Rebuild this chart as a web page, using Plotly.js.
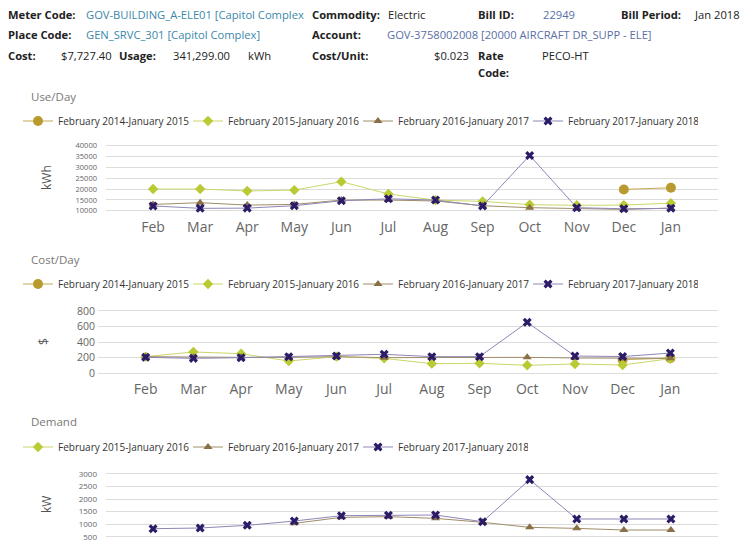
<!DOCTYPE html>
<html><head><meta charset="utf-8">
<script src="https://cdn.plot.ly/plotly-3.0.1.min.js"></script>
<style>html,body{margin:0;padding:0;background:#fff}</style>
</head><body><div id="chart" style="width:750px;height:550px"></div>
<script>
const months = ['Feb','Mar','Apr','May','Jun','Jul','Aug','Sep','Oct','Nov','Dec','Jan'];
const seriesNames = ['February 2014-January 2015','February 2015-January 2016','February 2016-January 2017','February 2017-January 2018'];

const useDay2014 = [null,null,null,null,null,null,null,null,null,null,19800,20600];
const useDay2015 = [20000,20000,19100,19500,23400,17700,14900,14300,12800,12500,12600,13500];
const useDay2016 = [12900,13700,12600,12900,14900,14900,14500,12300,11400,10900,10600,11200];
const useDay2017 = [12200,11100,11200,12300,14600,15500,14900,12200,35500,11400,10900,11100];

const costDay2014 = [null,null,null,null,null,null,null,null,null,null,175,195];
const costDay2015 = [214,274,252,158,214,192,124,128,103,120,107,188];
const costDay2016 = [214,205,205,205,214,201,205,205,205,197,190,192];
const costDay2017 = [205,192,201,214,222,244,214,214,654,222,215,260];

const demand2015 = [null,null,null,null,null,null,null,null,null,null,null,null];
const demand2016 = [null,null,null,1032,1271,1298,1231,1072,872,832,766,766];
const demand2017 = [819,846,952,1125,1338,1351,1364,1098,2774,1205,1205,1205];

const demandTicks = [500,1000,1500,2000,2500,3000];

const header = [
  ['Meter Code:', 'GOV-BUILDING_A-ELE01 [Capitol Complex', 'Commodity:', 'Electric', 'Bill ID:', '22949', 'Bill Period:', 'Jan 2018'],
  ['Place Code:', 'GEN_SRVC_301 [Capitol Complex]', 'Account:', 'GOV-3758002008 [20000 AIRCRAFT DR_SUPP - ELE]'],
  ['Cost:', '$7,727.40', 'Usage:', '341,299.00', 'kWh', 'Cost/Unit:', '$0.023', 'Rate', 'PECO-HT'],
  ['Code:']
];

const colors = ['#b89a2e','#b9ca34','#8a7145','#2c1c68'];
const lineColors = ['#c3a94e','#cbd66a','#a08c68','#8f86b6'];
const symbols = ['circle','diamond','triangle-up','x'];
const FONT = 'Open Sans, Noto Sans, sans-serif';
const W = 750, H = 550;
const px = x => x / W;
const py = y => 1 - y / H;

function mk(i, y, ax, leg) {
  return {
    type: 'scatter', mode: 'lines+markers', x: months, y: y, name: seriesNames[i],
    xaxis: 'x' + ax, yaxis: 'y' + ax, legend: leg, cliponaxis: false,
    line: {color: lineColors[i], width: 1},
    marker: {color: colors[i], symbol: symbols[i], size: i === 0 ? 10 : 8},
    connectgaps: false, hoverinfo: 'x+y+name'
  };
}

const data = [
  mk(0, useDay2014, '', 'legend'), mk(1, useDay2015, '', 'legend'), mk(2, useDay2016, '', 'legend'), mk(3, useDay2017, '', 'legend'),
  mk(0, costDay2014, '2', 'legend2'), mk(1, costDay2015, '2', 'legend2'), mk(2, costDay2016, '2', 'legend2'), mk(3, costDay2017, '2', 'legend2'),
  mk(1, demand2015, '3', 'legend3'), mk(2, demand2016, '3', 'legend3'), mk(3, demand2017, '3', 'legend3')
];

function xa(dom, left, showLabels, standoff) {
  return {domain: [px(left), px(718)], type: 'category', categoryarray: months, categoryorder: 'array', range: [-1, 12],
    showgrid: false, zeroline: false, showline: false, ticks: '', showticklabels: showLabels,
    ticklabelstandoff: standoff,
    tickfont: {family: FONT, size: 14, color: '#666'}, anchor: dom, fixedrange: true};
}
function ya(dom, range, tickSize, standoff, extra) {
  return Object.assign({domain: dom, range: range, showgrid: true, gridcolor: '#dcdcdc', gridwidth: 1,
    zeroline: false, showline: false, ticks: '', tickformat: 'd', ticklabelstandoff: standoff,
    tickfont: {family: FONT, size: tickSize, color: '#666'},
    fixedrange: true}, extra);
}

function legendAt(y) {
  return {orientation: 'h', x: px(18), y: py(y), xanchor: 'left', yanchor: 'middle',
    entrywidth: 125, entrywidthmode: 'pixels', bgcolor: 'rgba(0,0,0,0)',
    font: {family: FONT, size: 10, color: '#333'}, itemwidth: 30, itemclick: false, itemdoubleclick: false};
}

const annotations = [];
const HS = 11.2;
function txt(x, y, text, opts) {
  annotations.push(Object.assign({xref: 'paper', yref: 'paper', x: px(x), y: py(y), text: text,
    showarrow: false, xanchor: 'left', yanchor: 'middle',
    font: {family: FONT, size: HS, color: '#222'}}, opts || {}));
}
const bold = s => '<b>' + s + '</b>';
const blue = '#3b87aa', slate = '#5a6fa6';
// row 1
txt(6, 14, bold(header[0][0]));
txt(84, 14, header[0][1], {font: {family: FONT, size: HS, color: blue}});
txt(310, 14, bold(header[0][2]));
txt(386, 14, header[0][3]);
txt(476, 14, bold(header[0][4]));
txt(541, 14, header[0][5], {font: {family: FONT, size: HS, color: slate}});
txt(619, 14, bold(header[0][6]));
txt(692, 14, header[0][7]);
// row 2
txt(6, 35, bold(header[1][0]));
txt(84, 35, header[1][1], {font: {family: FONT, size: HS, color: blue}});
txt(310, 35, bold(header[1][2]));
txt(385, 35, header[1][3], {font: {family: FONT, size: HS, color: slate}});
// row 3
txt(6, 56, bold(header[2][0]));
txt(114, 56, header[2][1], {xanchor: 'right'});
txt(117, 56, bold(header[2][2]));
txt(232, 56, header[2][3], {xanchor: 'right'});
txt(246, 56, header[2][4]);
txt(310, 56, bold(header[2][5]));
txt(471, 56, header[2][6], {xanchor: 'right'});
txt(476, 56, bold(header[2][7]));
txt(540, 56, header[2][8]);
txt(476, 73, bold(header[3][0]));
// chart titles
const titleFont = {family: FONT, size: 11.5, color: '#777'};
txt(29, 96, 'Use/Day', {font: titleFont});
txt(29, 259, 'Cost/Day', {font: titleFont});
txt(29, 422, 'Demand', {font: titleFont});
// y axis titles
const axFont = {family: FONT, size: 12, color: '#555'};
txt(46, 178, 'kWh', {textangle: -90, xanchor: 'center', font: axFont});
txt(43, 342, '$', {textangle: -90, xanchor: 'center', font: axFont});
txt(46, 505, 'kW', {textangle: -90, xanchor: 'center', font: axFont});

const layout = {
  width: W, height: H, margin: {l: 0, r: 0, t: 0, b: 0}, paper_bgcolor: '#fff', plot_bgcolor: '#fff',
  showlegend: true, hovermode: 'closest',
  legend: legendAt(121), legend2: legendAt(284), legend3: legendAt(447),
  xaxis: xa('y', 106, true, 5), xaxis2: xa('y2', 98, true, 4), xaxis3: xa('y3', 106, false, 4),
  yaxis: ya([py(211.8), py(144.6)], [9500, 40500], 7.5, 8, {dtick: 5000, tick0: 0}),
  yaxis2: ya([py(374.5), py(309.8)], [-15, 815], 10.5, 10, {dtick: 200, tick0: 0}),
  yaxis3: ya([0, py(472.7)], [-30, 3050], 8, 8, {tickmode: 'array', tickvals: demandTicks, ticktext: demandTicks.map(String)}),
  annotations: annotations
};

Plotly.newPlot('chart', data, layout, {displayModeBar: false});
</script></body></html>
